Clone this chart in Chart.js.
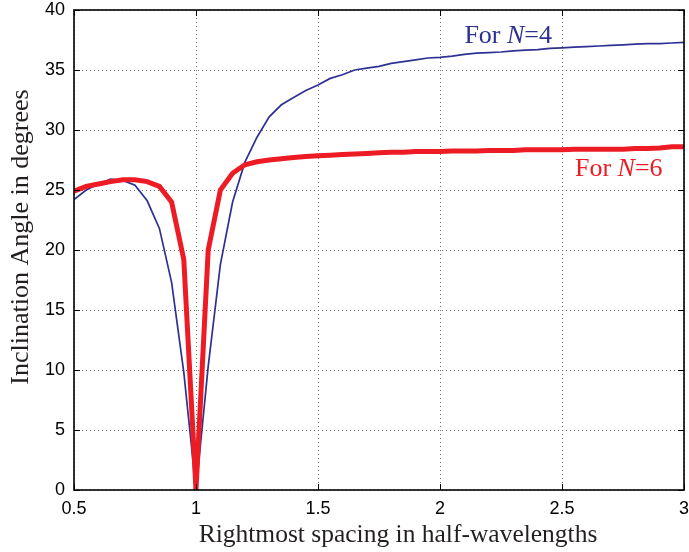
<!DOCTYPE html>
<html>
<head>
<meta charset="utf-8">
<script src="https://cdn.jsdelivr.net/npm/chart.js@4.4.0/dist/chart.umd.min.js"></script>
<style>
html, body { margin: 0; padding: 0; background: #fff; }
</style>
</head>
<body>
<canvas id="myChart" width="689" height="552"></canvas>
<script>
// the data

const spacing = [0.5, 0.55, 0.6, 0.65, 0.7, 0.75, 0.8, 0.85, 0.9, 0.95,
    1.0, 1.05, 1.1, 1.15, 1.2, 1.25, 1.3, 1.35, 1.4, 1.45,
    1.5, 1.55, 1.6, 1.65, 1.7, 1.75, 1.8, 1.85, 1.9, 1.95,
    2.0, 2.05, 2.1, 2.15, 2.2, 2.25, 2.3, 2.35, 2.4, 2.45,
    2.5, 2.55, 2.6, 2.65, 2.7, 2.75, 2.8, 2.85, 2.9, 2.95, 3.0]

const angleN4 = [24.2, 25.0, 25.5, 25.9, 25.8, 25.4, 24.1, 21.8, 17.3, 9.8,
    0, 10.3, 18.8, 24.0, 27.3, 29.4, 31.1, 32.1, 32.7, 33.3,
    33.75, 34.3, 34.6, 35.0, 35.15, 35.3, 35.55, 35.7, 35.85, 36.0,
    36.05, 36.15, 36.3, 36.4, 36.45, 36.5, 36.6, 36.65, 36.7, 36.8,
    36.85, 36.9, 36.95, 37.0, 37.05, 37.1, 37.15, 37.2, 37.2, 37.25, 37.3]

const angleN6 = [24.9, 25.3, 25.5, 25.7, 25.85, 25.85, 25.7, 25.3, 24.0, 19.2,
    0, 20.0, 25.0, 26.4, 27.1, 27.35, 27.5, 27.6, 27.7, 27.8,
    27.85, 27.9, 27.95, 28.0, 28.05, 28.1, 28.15, 28.15, 28.2, 28.2,
    28.2, 28.25, 28.25, 28.25, 28.3, 28.3, 28.3, 28.35, 28.35, 28.35,
    28.35, 28.4, 28.4, 28.4, 28.4, 28.4, 28.45, 28.45, 28.5, 28.6, 28.6]

const xTicks = [0.5, 1, 1.5, 2, 2.5, 3]
const yTicks = [0, 5, 10, 15, 20, 25, 30, 35, 40]

const xTitle = 'Rightmost spacing in half-wavelengths'
const yTitle = 'Inclination Angle in degrees'

const blue = '#2e3192'
const red = '#ed1c24'

// where the two notes sit (data units, left edge / baseline)
const noteN4 = { x: 2.1, y: 37.25, num: '4', color: blue }
const noteN6 = { x: 2.553, y: 26.15, num: '6', color: red }

function points(ys) {
    return spacing.map((s, i) => ({ x: s, y: ys[i] }))
}

const sans = '"Liberation Sans", Arial, sans-serif'
const serif = '"Liberation Serif", "Times New Roman", serif'
const tickFont = { family: sans, size: 18 }

// box round the plot, short ticks pointing in, the titles and the two notes
const frame = {
    id: 'frame',
    afterDatasetsDraw(chart) {
        const { ctx, chartArea: a, scales: { x, y } } = chart
        ctx.save()
        ctx.strokeStyle = '#000'
        ctx.lineWidth = 1
        ctx.beginPath()
        xTicks.forEach(v => {
            const px = Math.round(x.getPixelForValue(v)) + 0.5
            ctx.moveTo(px, a.top); ctx.lineTo(px, a.top + 6)
            ctx.moveTo(px, a.bottom); ctx.lineTo(px, a.bottom - 6)
        })
        yTicks.forEach(v => {
            const py = Math.round(y.getPixelForValue(v)) + 0.5
            ctx.moveTo(a.left, py); ctx.lineTo(a.left + 6, py)
            ctx.moveTo(a.right, py); ctx.lineTo(a.right - 6, py)
        })
        ctx.stroke()
        ctx.lineWidth = 1.6
        ctx.strokeRect(a.left, a.top, a.right - a.left, a.bottom - a.top)

        // axis titles
        ctx.fillStyle = '#231f20'
        ctx.textAlign = 'center'
        ctx.textBaseline = 'middle'
        ctx.font = '25.5px ' + serif
        ctx.fillText(xTitle, 398, 535)
        ctx.translate(21, 237)
        ctx.rotate(-Math.PI / 2)
        ctx.font = '26px ' + serif
        ctx.fillText(yTitle, 0, 0)
        ctx.setTransform(1, 0, 0, 1, 0, 0)

        ;[noteN4, noteN6].forEach(n => {
            let px = x.getPixelForValue(n.x)
            const py = y.getPixelForValue(n.y)
            ctx.fillStyle = n.color
            ctx.textBaseline = 'alphabetic'
            ctx.textAlign = 'left'
            const parts = [['For ', 'normal'], ['N', 'italic'], ['=' + n.num, 'normal']]
            parts.forEach(p => {
                ctx.font = p[1] + ' 26px ' + serif
                ctx.fillText(p[0], px, py)
                px += ctx.measureText(p[0]).width
            })
        })
        ctx.restore()
    }
}

const ctx = document.querySelector('#myChart').getContext('2d')

let chart = new Chart(ctx, {
    type: 'line',
    data: {
        datasets: [{
            label: 'For N=6',
            data: points(angleN6),
            borderColor: red,
            borderWidth: 5,
            borderJoinStyle: 'miter',
            pointRadius: 0,
            tension: 0,
            clip: 0,
            order: 0
        }, {
            label: 'For N=4',
            data: points(angleN4),
            borderColor: blue,
            borderWidth: 1.7,
            pointRadius: 0,
            tension: 0,
            clip: 0,
            order: 1
        }]
    },
    options: {
        responsive: false,
        animation: false,
        events: [],
        layout: { padding: { top: 10, right: 5, left: 0, bottom: 0 } },
        plugins: {
            legend: { display: false },
            tooltip: { enabled: false }
        },
        scales: {
            x: {
                type: 'linear',
                min: 0.5,
                max: 3,
                afterFit: s => { s.height = 62; s.paddingLeft = 0; s.paddingRight = 0 },
                afterBuildTicks: s => { s.ticks = xTicks.map(v => ({ value: v })) },
                ticks: {
                    font: tickFont, color: '#000', padding: 8, maxRotation: 0, autoSkip: false,
                    callback: v => String(v)
                },
                grid: { color: '#6d6d6d', lineWidth: 1, drawTicks: false },
                border: { display: false, dash: [1, 3] }
            },
            y: {
                min: 0,
                max: 40,
                afterFit: s => { s.width = 74; s.paddingTop = 0; s.paddingBottom = 0 },
                afterBuildTicks: s => { s.ticks = yTicks.map(v => ({ value: v })) },
                ticks: { font: tickFont, color: '#000', padding: 9, callback: v => String(v) },
                grid: { color: '#6d6d6d', lineWidth: 1, drawTicks: false },
                border: { display: false, dash: [1, 3] }
            }
        }
    },
    plugins: [frame]
})
</script>
</body>
</html>
